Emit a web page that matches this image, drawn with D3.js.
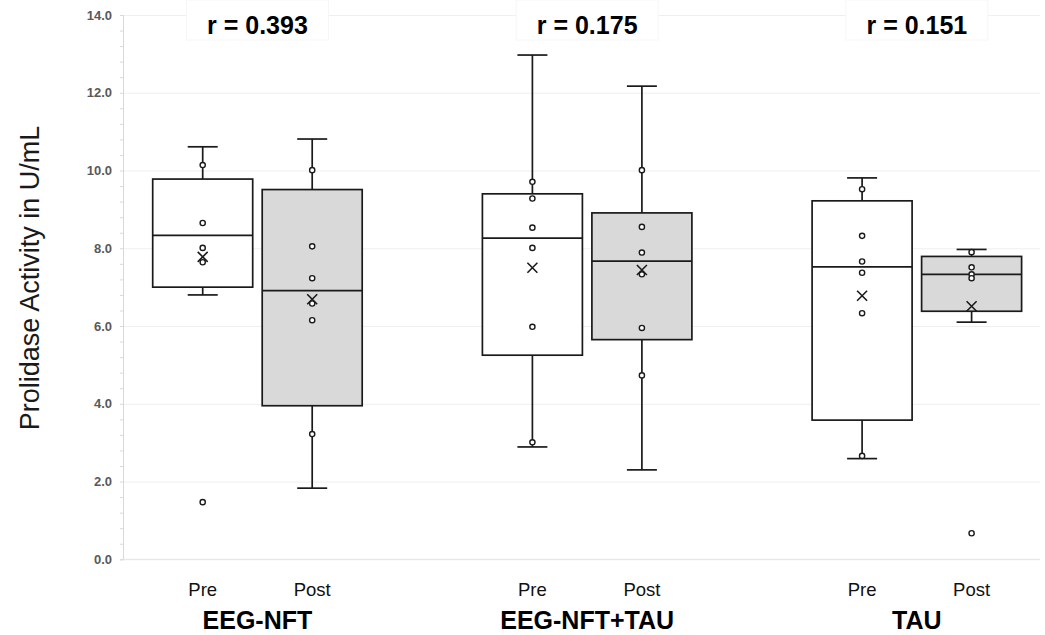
<!DOCTYPE html>
<html>
<head>
<meta charset="utf-8">
<script src="https://cdn.jsdelivr.net/npm/d3@7/dist/d3.min.js"></script>
<style>
  html, body { margin: 0; padding: 0; background: #fff; }
  svg { display: block; font-family: "Liberation Sans", Arial, sans-serif; }
</style>
</head>
<body>
<svg id="chart" width="1045" height="635"></svg>
<script>
// ---------- data ----------
const groups = ["EEG-NFT", "EEG-NFT+TAU", "TAU"];
const phases = ["Pre", "Post"];
const rValues = ["0.393", "0.175", "0.151"];
const yTicks = [0, 2, 4, 6, 8, 10, 12, 14];

// box statistics, ordered: EEG-NFT Pre, EEG-NFT Post, EEG-NFT+TAU Pre, EEG-NFT+TAU Post, TAU Pre, TAU Post
const q1          = [7.00, 3.95, 5.25, 5.65, 3.58, 6.38];
const medians     = [8.33, 6.91, 8.26, 7.67, 7.52, 7.33];
const q3          = [9.78, 9.51, 9.40, 8.91, 9.22, 7.79];
const whiskerLow  = [6.80, 1.83, 2.89, 2.30, 2.59, 6.10];
const whiskerHigh = [10.61, 10.81, 12.97, 12.17, 9.81, 7.97];
const means       = [7.78, 6.69, 7.50, 7.44, 6.78, 6.51];
const points = [
  [10.14, 8.65, 8.01, 7.64, 1.47],
  [10.01, 8.05, 7.23, 6.58, 6.15, 3.22],
  [9.71, 9.28, 8.53, 8.01, 5.98, 3.01],
  [10.01, 8.55, 7.89, 7.33, 5.95, 4.73],
  [9.52, 8.32, 7.66, 7.37, 6.33, 2.66],
  [7.90, 7.51, 7.33, 7.23, 0.67]
];

// ---------- layout ----------
const svg = d3.select("#chart");
const plotLeft = 123, plotRight = 1040, plotTop = 15, plotBottom = 559.3;

const y = d3.scaleLinear().domain([0, 14]).range([plotBottom, plotTop]);
const x = d3.scaleBand().domain(groups).range([92.6, 1081.7]).padding(0);
const sub = d3.scaleBand().domain(phases)
  .range([x.bandwidth() / 2 - 109.5, x.bandwidth() / 2 + 109.5]).paddingInner(0.085).paddingOuter(0.0425);
const fills = { Pre: "#ffffff", Post: "#d9d9d9" };

const boxes = [];
groups.forEach((g, gi) => phases.forEach((p, pi) => {
  const i = gi * 2 + pi;
  boxes.push({ g, p, i, q1: q1[i], med: medians[i], q3: q3[i], lo: whiskerLow[i], hi: whiskerHigh[i], mean: means[i], pts: points[i] });
}));
const cx = d => x(d.g) + sub(d.p) + sub.bandwidth() / 2;

// gridlines
svg.append("g")
  .attr("transform", `translate(${plotLeft},0)`)
  .call(d3.axisLeft(y).tickValues(yTicks).tickSize(-(plotRight - plotLeft)).tickFormat(""))
  .call(g => g.select(".domain").remove())
  .call(g => g.selectAll("line").attr("stroke", "#efefef").attr("stroke-width", 1));

// minor ticks
svg.append("g")
  .attr("transform", `translate(${plotLeft},0)`)
  .call(d3.axisLeft(y).tickValues(d3.range(0, 70).map(k => k * 0.2).filter((v, k) => k % 2 === 0 && v <= 14.001)).tickSize(3).tickFormat(""))
  .call(g => g.select(".domain").attr("stroke", "#d9d9d9"))
  .call(g => g.selectAll("line").attr("stroke", "#d9d9d9"));

// bottom line
svg.append("line").attr("x1", plotLeft).attr("x2", plotRight)
  .attr("y1", y(0)).attr("y2", y(0)).attr("stroke", "#e4e4e4");

// tick labels
svg.append("g")
  .attr("transform", `translate(${plotLeft - 11},0)`)
  .call(d3.axisLeft(y).tickValues(yTicks).tickSize(0).tickFormat(d3.format(".1f")))
  .call(g => g.select(".domain").remove())
  .call(g => g.selectAll("text")
    .attr("x", 0).attr("font-size", "13px").attr("font-weight", "bold")
    .attr("fill", "#595959").attr("font-family", "Liberation Sans, Arial, sans-serif"));

// y title
svg.append("text")
  .attr("transform", `translate(39,278) rotate(-90)`)
  .attr("text-anchor", "middle")
  .attr("font-size", "27px")
  .attr("fill", "#1a1a1a")
  .text("Prolidase Activity in U/mL");

// boxes
const bw = 100, capW = 30;
const bg = svg.append("g").selectAll("g").data(boxes).join("g");
// whiskers
bg.append("line").attr("x1", cx).attr("x2", cx).attr("y1", d => y(d.q3)).attr("y2", d => y(d.hi))
  .attr("stroke", "#1a1a1a").attr("stroke-width", 1.7);
bg.append("line").attr("x1", cx).attr("x2", cx).attr("y1", d => y(d.q1)).attr("y2", d => y(d.lo))
  .attr("stroke", "#1a1a1a").attr("stroke-width", 1.7);
bg.append("line").attr("x1", d => cx(d) - capW / 2).attr("x2", d => cx(d) + capW / 2)
  .attr("y1", d => y(d.hi)).attr("y2", d => y(d.hi)).attr("stroke", "#1a1a1a").attr("stroke-width", 1.7);
bg.append("line").attr("x1", d => cx(d) - capW / 2).attr("x2", d => cx(d) + capW / 2)
  .attr("y1", d => y(d.lo)).attr("y2", d => y(d.lo)).attr("stroke", "#1a1a1a").attr("stroke-width", 1.7);
// box
bg.append("rect")
  .attr("x", d => cx(d) - bw / 2).attr("width", bw)
  .attr("y", d => y(d.q3)).attr("height", d => y(d.q1) - y(d.q3))
  .attr("fill", d => fills[d.p]).attr("stroke", "#1a1a1a").attr("stroke-width", 1.7);
// median
bg.append("line").attr("x1", d => cx(d) - bw / 2).attr("x2", d => cx(d) + bw / 2)
  .attr("y1", d => y(d.med)).attr("y2", d => y(d.med)).attr("stroke", "#1a1a1a").attr("stroke-width", 1.7);
// points
bg.selectAll("circle").data(d => d.pts.map(v => ({ v, d }))).join("circle")
  .attr("cx", o => cx(o.d)).attr("cy", o => y(o.v)).attr("r", 2.6)
  .attr("fill", "#fff").attr("stroke", "#1a1a1a").attr("stroke-width", 1.4);
// mean X
const xs = 5;
bg.append("path")
  .attr("d", d => { const X = cx(d), Y = y(d.mean); return `M${X - xs},${Y - xs}L${X + xs},${Y + xs}M${X - xs},${Y + xs}L${X + xs},${Y - xs}`; })
  .attr("stroke", "#1a1a1a").attr("stroke-width", 1.6).attr("fill", "none");

// r labels
const rl = svg.append("g").selectAll("g").data(groups).join("g");
rl.append("rect")
  .attr("x", g => x(g) + x.bandwidth() / 2 - 71).attr("y", 0).attr("width", 142).attr("height", 40)
  .attr("fill", "#fff").attr("stroke", "#f6f6f6");
rl.append("text")
  .attr("x", g => x(g) + x.bandwidth() / 2).attr("y", 34)
  .attr("text-anchor", "middle").attr("font-size", "25px").attr("font-weight", "bold").attr("fill", "#000")
  .text((g, i) => `r = ${rValues[i]}`);

// phase labels
svg.append("g").selectAll("text").data(boxes).join("text")
  .attr("x", cx).attr("y", 596)
  .attr("text-anchor", "middle").attr("font-size", "18.5px").attr("fill", "#111")
  .text(d => d.p);

// group labels
svg.append("g").selectAll("text").data(groups).join("text")
  .attr("x", g => x(g) + x.bandwidth() / 2).attr("y", 629)
  .attr("text-anchor", "middle").attr("font-size", "25px").attr("font-weight", "bold").attr("fill", "#000")
  .text(g => g);
</script>
</body>
</html>
